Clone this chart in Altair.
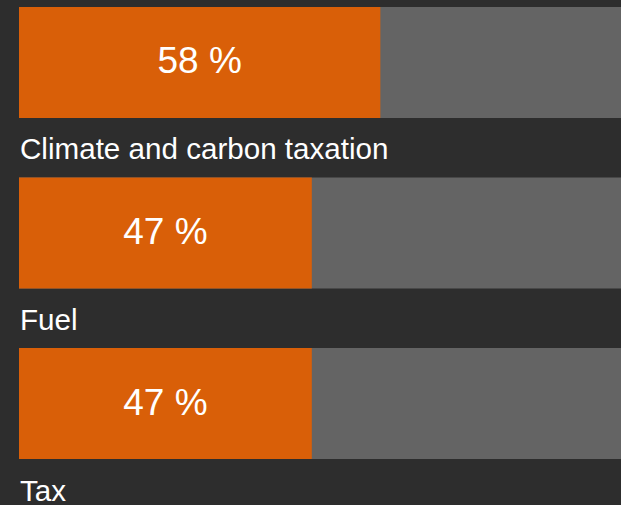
import altair as alt
import pandas as pd

categories = ["Climate and carbon taxation", "Fuel", "Tax"]
values = [58, 47, 47]
totals = [100, 100, 100]

df = pd.DataFrame({"category": categories, "value": values, "total": totals})

ORANGE = "#d95f08"
GREY = "#646464"
BG = "#2d2d2d"

yenc = alt.Y(
    "category:N",
    sort=categories,
    axis=None,
    scale=alt.Scale(range=[0, 452], paddingInner=0.349, paddingOuter=0),
)
xscale = alt.Scale(domain=[0, 100], range=[0, 623], nice=False, zero=True)

base = alt.Chart(df)

grey = base.mark_bar(color=GREY).encode(
    x=alt.X("zero:Q", scale=xscale, axis=None),
    x2="total:Q",
    y=yenc,
).transform_calculate(zero="0")

orange = base.mark_bar(color=ORANGE).encode(
    x=alt.X("zero:Q", scale=xscale, axis=None),
    x2="value:Q",
    y=yenc,
).transform_calculate(zero="0")

pct = base.mark_text(
    color="white", font="Liberation Sans", fontSize=37, baseline="middle", align="center"
).encode(
    x=alt.X("mid:Q", scale=xscale, axis=None),
    y=yenc,
    text="label:N",
).transform_calculate(mid="datum.value / 2", label="datum.value + ' %'")

names = base.mark_text(
    color="white", font="Liberation Sans", fontSize=29.6, baseline="alphabetic",
    align="left", yOffset=97, dx=1,
).encode(
    x=alt.X("zero:Q", scale=xscale, axis=None),
    y=yenc,
    text="category:N",
).transform_calculate(zero="0")

chart = alt.layer(grey, orange, pct, names).properties(
    width=602,
    height=498,
    background=BG,
    padding={"left": 19, "top": 7, "right": 0, "bottom": 0},
    autosize=alt.AutoSizeParams(type="none"),
).configure_view(stroke=None)

chart.save(
    "out.html",
    embed_options={
        "renderer": "svg",
        "actions": False,
        "defaultStyle": "html,body{margin:0;padding:0;background:#2d2d2d;overflow:hidden}",
    },
)
